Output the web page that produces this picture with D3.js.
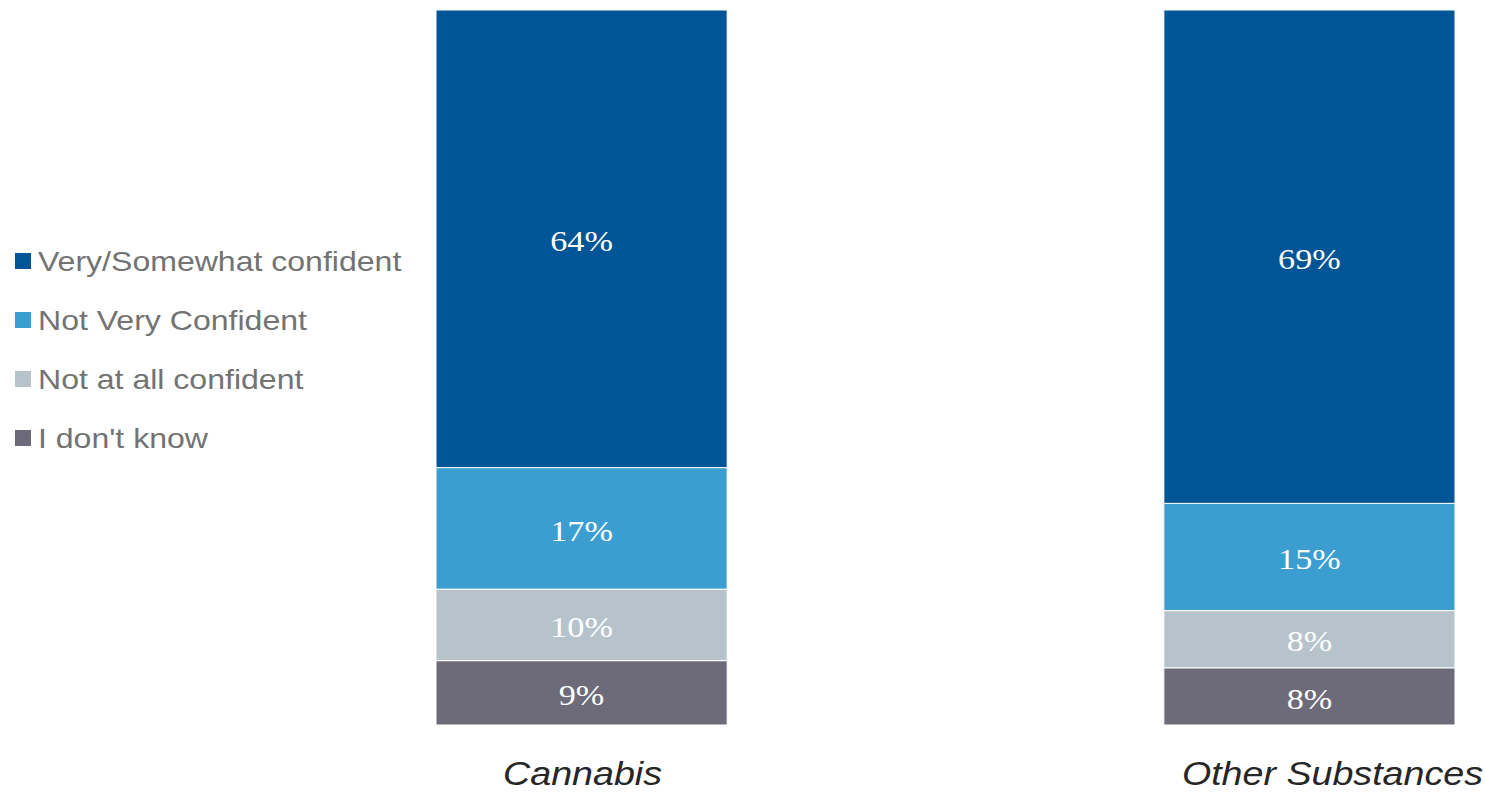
<!DOCTYPE html>
<html>
<head>
<meta charset="utf-8">
<script src="https://cdn.jsdelivr.net/npm/d3@7"></script>
<style>
  body { margin: 0; background: #fff; }
  svg { display: block; }
</style>
</head>
<body>
<div id="chart"></div>
<script>
// data
const categories = ["Cannabis", "Other Substances"];
const seriesNames = ["Very/Somewhat confident", "Not Very Confident", "Not at all confident", "I don't know"];
const verySomewhat = [64, 69];
const notVery = [17, 15];
const notAtAll = [10, 8];
const dontKnow = [9, 8];
const colors = ["#005596", "#3c9ed0", "#b6c3cb", "#6d6b7a"];

const W = 1485, H = 792;
const stretch = 1.14; // the original text looks a bit wide

const svg = d3.select("#chart")
    .append("svg")
    .attr("width", W)
    .attr("height", H);

const x = d3.scaleBand()
    .domain(categories)
    .range([436, 1455])
    .paddingInner(0.6)
    .paddingOuter(0);

const y = d3.scaleLinear()
    .domain([0, 100])
    .range([725, 10]);

// stack from bottom: I don't know first
const rows = categories.map((c, i) => ({
    cat: c,
    "Very/Somewhat confident": verySomewhat[i],
    "Not Very Confident": notVery[i],
    "Not at all confident": notAtAll[i],
    "I don't know": dontKnow[i]
}));

const stackKeys = seriesNames.slice().reverse();
const stacked = d3.stack().keys(stackKeys)(rows);

const color = d3.scaleOrdinal()
    .domain(seriesNames)
    .range(colors);

const layers = svg.append("g")
    .selectAll("g")
    .data(stacked)
    .enter()
    .append("g")
    .attr("fill", d => color(d.key));

layers.selectAll("rect")
    .data(d => d)
    .enter()
    .append("rect")
    .attr("x", d => x(d.data.cat))
    .attr("y", d => y(d[1]))
    .attr("width", x.bandwidth())
    .attr("height", d => y(d[0]) - y(d[1]))
    .attr("stroke", "#fff")
    .attr("stroke-width", 1);

// value labels
layers.selectAll("text")
    .data(d => d)
    .enter()
    .append("text")
    .attr("transform", d => "translate(" + (x(d.data.cat) + x.bandwidth() / 2) + "," + ((y(d[0]) + y(d[1])) / 2 + 2) + ") scale(" + stretch + ",1)")
    .attr("text-anchor", "middle")
    .attr("dominant-baseline", "central")
    .attr("font-family", "'Liberation Serif', 'Times New Roman', serif")
    .attr("font-size", "30px")
    .attr("fill", "#fff")
    .text(d => (d[1] - d[0]) + "%");

// category labels (the second one sits a little right of its bar in the original)
svg.append("g")
    .selectAll("text")
    .data(categories)
    .enter()
    .append("text")
    .attr("transform", (d, i) => "translate(" + (x(d) + x.bandwidth() / 2 + (i == 1 ? 23 : 1)) + ",785) scale(" + stretch + ",1)")
    .attr("text-anchor", "middle")
    .attr("font-family", "'Liberation Sans', Arial, sans-serif")
    .attr("font-style", "italic")
    .attr("font-size", "33px")
    .attr("fill", "#262626")
    .text(d => d);

// legend
const legend = svg.append("g")
    .selectAll("g")
    .data(seriesNames)
    .enter()
    .append("g")
    .attr("transform", (d, i) => "translate(0," + (261 + i * 59) + ")");

legend.append("rect")
    .attr("x", 15)
    .attr("y", -8)
    .attr("width", 16)
    .attr("height", 16)
    .attr("fill", d => color(d));

legend.append("text")
    .attr("transform", "translate(38,0) scale(1.145,1)")
    .attr("dominant-baseline", "central")
    .attr("font-family", "'Liberation Sans', Arial, sans-serif")
    .attr("font-size", "28px")
    .attr("fill", "#737373")
    .text(d => d);
</script>
</body>
</html>
